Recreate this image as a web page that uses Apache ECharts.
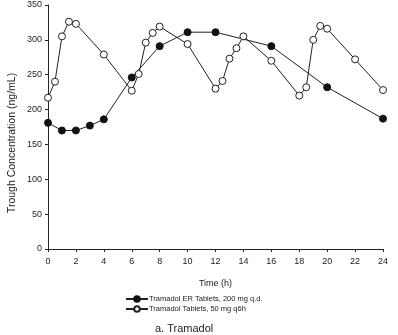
<!DOCTYPE html>
<html><head><meta charset="utf-8">
<script src="https://cdn.jsdelivr.net/npm/echarts@6/dist/echarts.min.js"></script>
<style>html,body{margin:0;padding:0;background:#fff}#c{width:398px;height:335px}</style>
</head><body><div id="c"></div>
<script>
var erTimes = [0, 1, 2, 3, 4, 6, 8, 10, 12, 16, 20, 24];
var erValues = [181, 170, 170, 177, 186, 246, 291, 311, 311, 291, 232, 187];
var irTimes = [0, 0.5, 1, 1.5, 2, 4, 6, 6.5, 7, 7.5, 8, 10, 12, 12.5, 13, 13.5, 14, 16, 18, 18.5, 19, 19.5, 20, 22, 24];
var irValues = [217, 240, 305, 326, 323, 279, 227, 251, 296, 310, 319, 294, 230, 241, 273, 288, 305, 270, 220, 232, 300, 320, 316, 272, 228];
var seriesNames = ['Tramadol ER Tablets, 200 mg q.d.', 'Tramadol Tablets, 50 mg q6h'];
var xTicks = {min: 0, max: 24, interval: 2};
var yTicks = {min: 0, max: 350, interval: 50};
var xTitle = 'Time (h)';
var yTitle = 'Trough Concentration (ng/mL)';
var caption = 'a. Tramadol';

function pairs(xs, ys){ return xs.map(function(x,i){return [x, ys[i]];}); }
var font = 'Liberation Sans, Arial, sans-serif';
var chart = echarts.init(document.getElementById('c'), null, {renderer:'canvas'});
chart.setOption({
  animation: false,
  backgroundColor: '#fff',
  grid: {left: 48, right: 15, top: 5, bottom: 86, containLabel: false, outerBoundsMode: 'none'},
  title: {text: caption, left: 150, top: 318, textStyle: {fontFamily: font, fontSize: 11, fontWeight: 'normal', color: '#222'}},
  legend: {
    orient: 'vertical', left: 125, top: 295, itemWidth: 22, itemHeight: 7, itemGap: 2, padding: 0,
    textStyle: {fontFamily: 'Liberation Sans Narrow, Arial Narrow, sans-serif', fontSize: 7.5, color: '#222', padding: [0,0,0,-4]},
    data: seriesNames
  },
  graphic: [{
    type: 'text', x: 12.5, y: 143, rotation: Math.PI / 2,
    style: {text: yTitle, fontFamily: font, fontSize: 10.5, fill: '#222', align: 'center', verticalAlign: 'middle'}
  }],
  xAxis: {
    type: 'value', min: xTicks.min, max: xTicks.max, interval: xTicks.interval,
    name: xTitle, nameLocation: 'middle', nameGap: 30,
    nameTextStyle: {fontFamily: font, fontSize: 9, color: '#222'},
    axisLine: {lineStyle: {color: '#222', width: 1}},
    axisTick: {show: true, length: 3, lineStyle: {color: '#222'}},
    axisLabel: {fontFamily: font, fontSize: 9, color: '#222', margin: 8},
    splitLine: {show: false}
  },
  yAxis: {
    type: 'value', min: yTicks.min, max: yTicks.max, interval: yTicks.interval,
    axisLine: {show: true, lineStyle: {color: '#222', width: 1}},
    axisTick: {show: true, length: 3, lineStyle: {color: '#222'}},
    axisLabel: {fontFamily: font, fontSize: 9, color: '#222', margin: 6},
    splitLine: {show: false}
  },
  series: [
    {
      name: seriesNames[0], type: 'line', data: pairs(erTimes, erValues),
      symbol: 'circle', symbolSize: 7,
      lineStyle: {color: '#222', width: 1},
      itemStyle: {color: '#111', borderColor: '#111', borderWidth: 1},
      z: 3
    },
    {
      name: seriesNames[1], type: 'line', data: pairs(irTimes, irValues),
      symbol: 'circle', symbolSize: 7,
      lineStyle: {color: '#222', width: 1},
      itemStyle: {color: '#fff', borderColor: '#222', borderWidth: 1},
      z: 4
    }
  ]
});
</script></body></html>
